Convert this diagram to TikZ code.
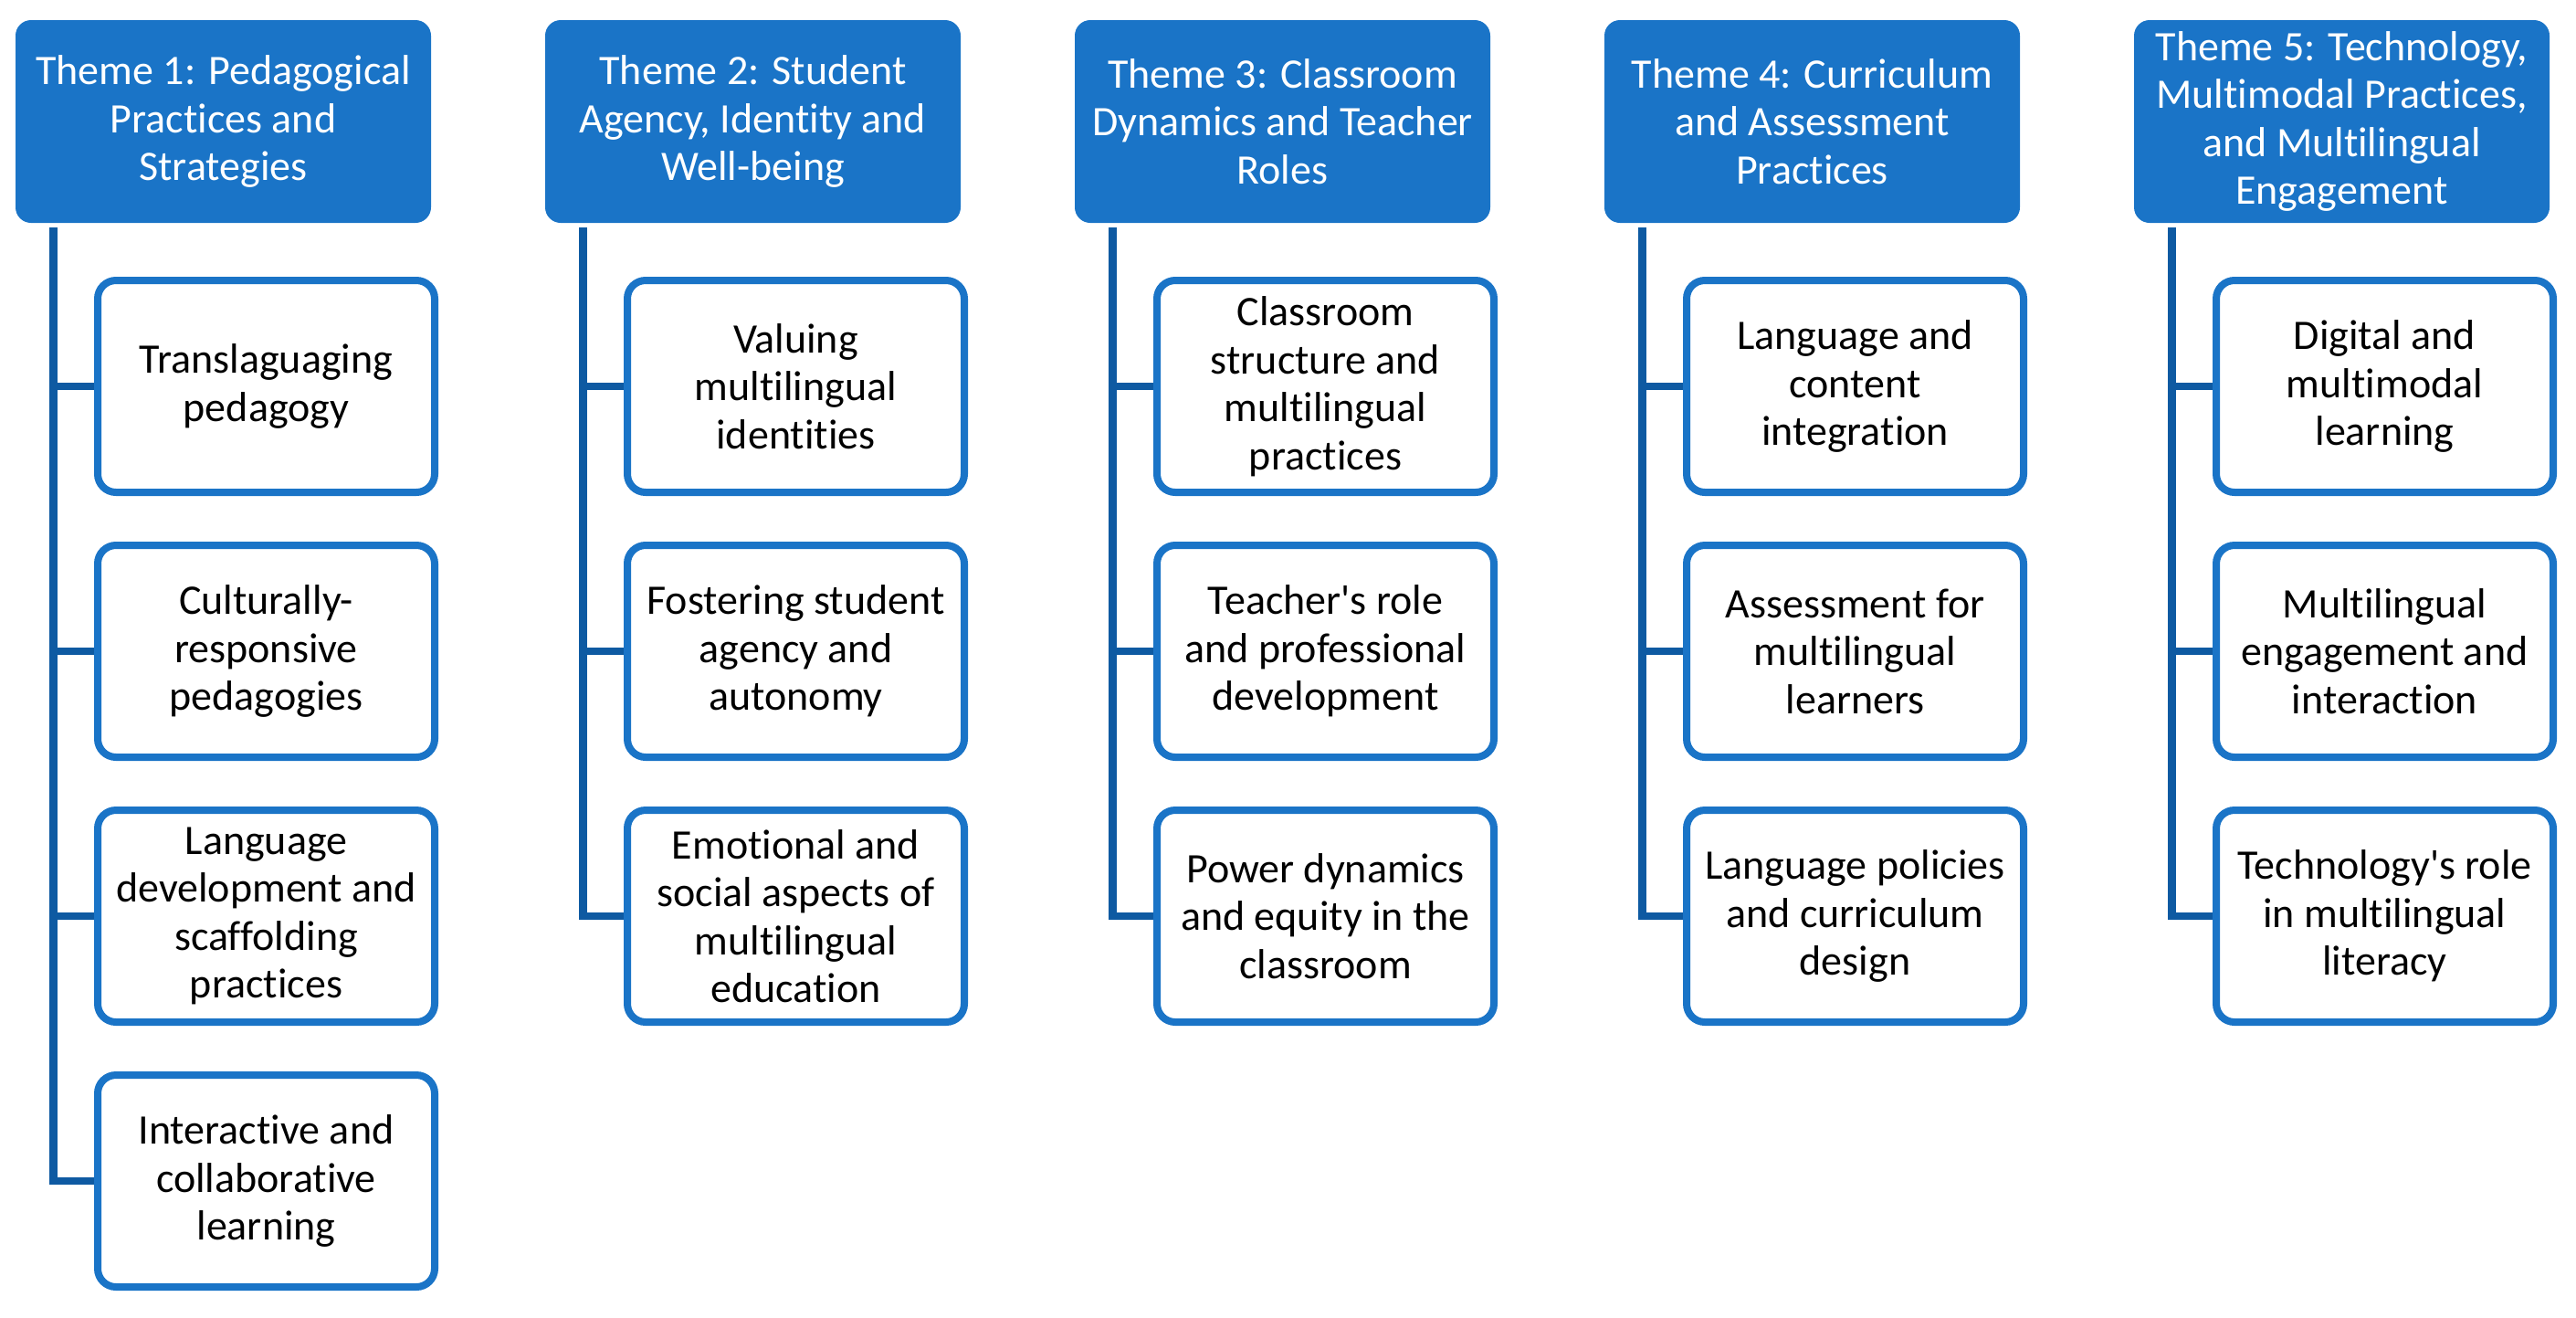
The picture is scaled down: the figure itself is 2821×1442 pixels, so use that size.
\documentclass[tikz,border=0pt]{standalone}
\usepackage{fontspec}
\setmainfont{Carlito}[Ligatures={TeXOff,CommonOff}]
\definecolor{hdr}{RGB}{26,116,199}
\definecolor{cn}{RGB}{14,90,162}
\begin{document}
\begin{tikzpicture}[x=0.5pt,y=-0.5pt,
  theme/.style={fill=hdr, text=white, rounded corners=8.5pt, minimum width=227.5pt,
    minimum height=111pt, align=center, inner sep=0pt, font=\fontsize{23}{26.25}\selectfont},
  sub/.style={draw=hdr, line width=4pt, fill=white, rounded corners=10pt, minimum width=184.5pt,
    minimum height=116pt, align=center, inner sep=0pt, text=black, font=\fontsize{23}{26.25}\selectfont},
  link/.style={draw=cn, line width=4.3pt}]
\useasboundingbox (0,0) rectangle (2821,1442);

% Column 1
\node[theme] (h1) at (244.5,133) {Theme 1: Pedagogical\\Practices and\\Strategies};
\node[sub] (c11) at (291.5,423) {Translaguaging\\pedagogy};
\node[sub] (c12) at (291.5,713) {Culturally-\\responsive\\pedagogies};
\node[sub] (c13) at (291.5,1003) {Language\\development and\\scaffolding\\practices};
\node[sub] (c14) at (291.5,1293) {Interactive and\\collaborative\\learning};
\coordinate (v1) at (58.5,249);

% Column 2
\node[theme] (h2) at (824.5,133) {Theme 2: Student\\Agency, Identity and\\Well-being};
\node[sub] (c21) at (871.5,423) {Valuing\\multilingual\\identities};
\node[sub] (c22) at (871.5,713) {Fostering student\\agency and\\autonomy};
\node[sub] (c23) at (871.5,1003) {Emotional and\\social aspects of\\multilingual\\education};
\coordinate (v2) at (638.5,249);

% Column 3
\node[theme] (h3) at (1404.5,133) {Theme 3: Classroom\\Dynamics and Teacher\\Roles};
\node[sub] (c31) at (1451.5,423) {Classroom\\structure and\\multilingual\\practices};
\node[sub] (c32) at (1451.5,713) {Teacher's role\\and professional\\development};
\node[sub] (c33) at (1451.5,1003) {Power dynamics\\and equity in the\\classroom};
\coordinate (v3) at (1218.5,249);

% Column 4
\node[theme] (h4) at (1984.5,133) {Theme 4: Curriculum\\and Assessment\\Practices};
\node[sub] (c41) at (2031.5,423) {Language and\\content\\integration};
\node[sub] (c42) at (2031.5,713) {Assessment for\\multilingual\\learners};
\node[sub] (c43) at (2031.5,1003) {Language policies\\and curriculum\\design};
\coordinate (v4) at (1798.5,249);

% Column 5
\node[theme] (h5) at (2564.5,133) {Theme 5: Technology,\\Multimodal Practices,\\and Multilingual\\Engagement};
\node[sub] (c51) at (2611.5,423) {Digital and\\multimodal\\learning};
\node[sub] (c52) at (2611.5,713) {Multilingual\\engagement and\\interaction};
\node[sub] (c53) at (2611.5,1003) {Technology's role\\in multilingual\\literacy};
\coordinate (v5) at (2378.5,249);

% Connectors
\draw[link] (v1) |- (c14.west);
\foreach \c in {c11,c12,c13} \draw[link] (\c.west -| v1) -- (\c.west);
\draw[link] (v2) |- (c23.west);
\foreach \c in {c21,c22} \draw[link] (\c.west -| v2) -- (\c.west);
\draw[link] (v3) |- (c33.west);
\foreach \c in {c31,c32} \draw[link] (\c.west -| v3) -- (\c.west);
\draw[link] (v4) |- (c43.west);
\foreach \c in {c41,c42} \draw[link] (\c.west -| v4) -- (\c.west);
\draw[link] (v5) |- (c53.west);
\foreach \c in {c51,c52} \draw[link] (\c.west -| v5) -- (\c.west);
\end{tikzpicture}
\end{document}
